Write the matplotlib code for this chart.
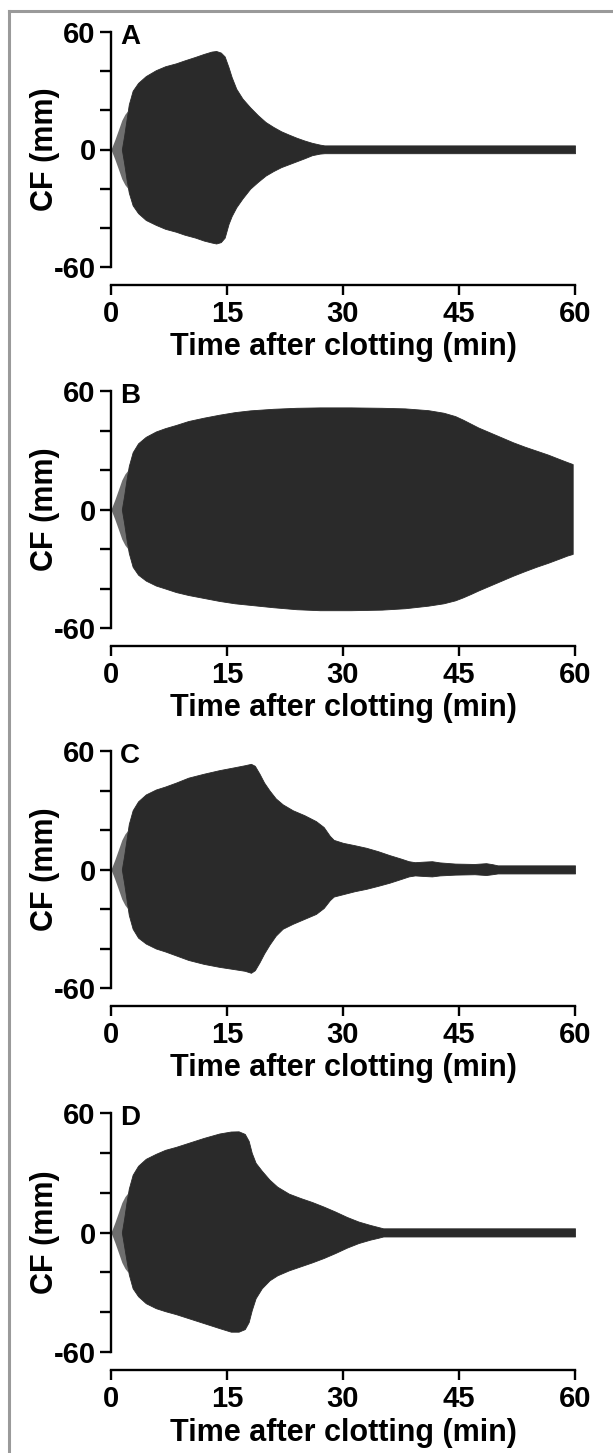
import matplotlib
matplotlib.use("Agg")
import matplotlib.pyplot as plt
from matplotlib.lines import Line2D

plt.rcParams["font.family"] = ["Liberation Sans", "DejaVu Sans"]
plt.rcParams["font.weight"] = "bold"

# initial (pre-clot) part, drawn lighter
t_start = [0, 0.5, 1.0, 1.4, 1.8, 2.2]
a_start = [0, 5, 10.5, 15, 18, 20]

# panel A
t_a = [1.4, 1.7, 2.0, 2.3, 2.8, 3.5, 4.5, 5.8, 7.0, 8.4, 9.5, 10.9, 12.0, 13.0, 13.6, 14.2, 14.7, 15.2,
       15.6, 16.2, 17.0, 18.0, 19.0, 20.0, 21.0, 22.0, 23.0, 24.0, 25.0, 26.0, 27.0, 27.6, 60]
up_a = [0, 7, 15, 23, 30, 34, 37.5, 40.5, 42.5, 44, 45.5, 47.3, 48.8, 50, 50.3, 49.5, 47.5, 42,
        37, 31, 26, 21.5, 17.5, 14, 11.5, 9.3, 7.6, 6, 4.6, 3.4, 2.5, 2.1, 2.1]
lo_a = [0, -7, -15, -22, -28.5, -32.5, -36, -38.5, -40.5, -42, -43.5, -45, -46.5, -47.5, -48, -47.3, -45, -38,
        -34, -29.5, -25, -20, -16.5, -13.3, -11, -9, -7.5, -6, -4.5, -2.9, -2.1, -1.9, -1.9]

# panel B
t_b = [1.4, 1.7, 2.0, 2.3, 2.8, 3.5, 4.5, 5.8, 7, 8.4, 10, 12, 14, 16, 18, 21, 24, 27, 31, 35, 38, 41,
       43, 44.5, 45.5, 46.5, 47.5, 49, 50.5, 52, 53.5, 55, 56.5, 58, 59, 59.7]
up_b = [0, 7, 15, 22, 29, 33.5, 36.8, 39.5, 41.2, 42.8, 44.8, 46.5, 48, 49.3, 50.2, 51, 51.5, 51.7, 51.7, 51.5, 51.2, 50.3,
        49, 47.3, 45.5, 43.5, 41.5, 39, 36.5, 34, 31.8, 29.8, 27.8, 25.5, 24, 23]
lo_b = [0, -7, -15, -22, -29, -33, -36, -38.5, -40, -41.8, -43.3, -44.8, -46.3, -47.5, -48.3, -49.5, -50.5, -51, -51, -50.7, -50, -48.7,
        -47.5, -46, -44.5, -42.8, -41, -38.5, -36, -33.5, -31.2, -29, -27, -24.8, -23.3, -22.5]

# panel C
t_c = [1.4, 1.7, 2.0, 2.3, 2.8, 3.5, 4.5, 5.8, 7, 8.4, 10, 12, 14, 16, 17.3, 18.1, 18.6, 19.2, 19.8, 20.5,
       21.3, 22.2, 23.5, 25, 26.5, 27.5, 28.3, 28.8, 30, 31.5, 33, 34.5, 36, 37.5, 38.5, 39.3, 40.5, 41.5,
       42.5, 43.5, 44.5, 47, 48.5, 49.3, 50, 60]
up_c = [0, 7, 15, 23, 30, 34.5, 38, 40.5, 42, 44, 46.5, 48.5, 50.3, 51.8, 52.8, 53.5, 52.5, 48.5, 44, 40,
        36, 33, 30, 27.5, 24.5, 21.5, 17, 15, 13.5, 12.3, 11, 9.3, 7.3, 5.5, 4.2, 3.7, 4.0, 4.2,
        3.6, 3.3, 3.0, 2.8, 3.2, 2.7, 2.1, 2.1]
lo_c = [0, -7, -15, -23, -30, -34.5, -37.5, -40, -41.5, -43.5, -45.8, -47.8, -49.3, -50.5, -51.3, -52.3, -51, -47, -42.5, -38,
        -33.5, -30, -27.5, -25, -22.5, -19.5, -15.5, -13.7, -12.5, -11, -9.8, -8.3, -6.7, -4.8, -3.5, -3, -3.3, -3.5,
        -3.0, -2.8, -2.6, -2.4, -2.8, -2.4, -2, -2]

# panel D
t_d = [1.4, 1.7, 2.0, 2.3, 2.8, 3.5, 4.5, 5.8, 7, 8.4, 10, 12, 14, 15.5, 16.5, 17.3, 17.8, 18.2, 18.7, 19.5,
       20.5, 21.5, 23, 24.5, 26, 27.5, 29, 30.5, 32, 33.5, 34.5, 35.2, 60]
up_d = [0, 7, 15, 22, 29, 33.5, 37, 39.5, 41.5, 43, 45, 47.5, 49.7, 50.7, 50.8, 49.5, 46, 40, 35, 31,
        26.5, 23, 19.5, 17.3, 15.3, 13, 10.5, 7.8, 5.5, 3.8, 2.8, 2.1, 2.1]
lo_d = [0, -7, -14, -21, -28, -32, -35.5, -38, -39.5, -41, -43, -45.5, -48, -49.8, -49.8, -48.5, -45, -39, -33, -28,
        -24, -21.5, -19, -17, -15, -12.8, -10.3, -7.6, -5.3, -3.6, -2.7, -2, -2]

panels = [("A", t_a, up_a, lo_a), ("B", t_b, up_b, lo_b),
          ("C", t_c, up_c, lo_c), ("D", t_d, up_d, lo_d)]

W, H = 613, 1453
fig = plt.figure(figsize=(W / 100, H / 100), dpi=100)

# axes tops/bottoms in pixels (y=60 and y=-60)
tops = [32, 391, 751, 1113]
bots = [267, 628, 988, 1352]
left_px, right_px = 111, 575

dark = "#2a2a2a"
grey = "#6e6e6e"

for (letter, t, up, lo), top, bot in zip(panels, tops, bots):
    ax = fig.add_axes([left_px / W, 1 - bot / H, (right_px - left_px) / W, (bot - top) / H])
    ax.fill_between(t_start, a_start, [-v for v in a_start], color=grey, lw=0)
    ax.fill_between(t, up, lo, color=dark, lw=0.6, edgecolor=dark)
    ax.set_xlim(0, 60)
    ax.set_ylim(-60, 60)
    ax.spines["top"].set_visible(False)
    ax.spines["right"].set_visible(False)
    ax.spines["bottom"].set_position(("outward", 13))
    for s in ("left", "bottom"):
        ax.spines[s].set_linewidth(1.7)
    ax.set_xticks([0, 15, 30, 45, 60])
    ax.set_yticks([-60, -40, -20, 0, 20, 40, 60])
    ax.set_yticklabels(["-60", "", "", "0", "", "", "60"])
    ax.tick_params(axis="both", width=1.7, labelsize=21)
    ax.tick_params(axis="y", length=8, pad=3)
    ax.tick_params(axis="x", length=7, pad=3.5)
    ax.set_xlabel("Time after clotting (min)", fontsize=22, fontweight="bold")
    ax.set_ylabel("CF (mm)", fontsize=22, fontweight="bold")
    ax.xaxis.set_label_coords(0.5, -0.275)
    ax.yaxis.set_label_coords(-0.11, 0.5)
    ax.text(0.02, 1.035, letter, transform=ax.transAxes, fontsize=20,
            fontweight="bold", ha="left", va="top")

# grey frame on the left and top
fig.add_artist(Line2D([8.5 / W, 8.5 / W], [0, 1 - 11 / H], color="#9a9a9a", lw=2.2))
fig.add_artist(Line2D([8.5 / W, 1], [1 - 11.3 / H, 1 - 11.3 / H], color="#9a9a9a", lw=2.2))

fig.savefig("out.png", dpi=100)
